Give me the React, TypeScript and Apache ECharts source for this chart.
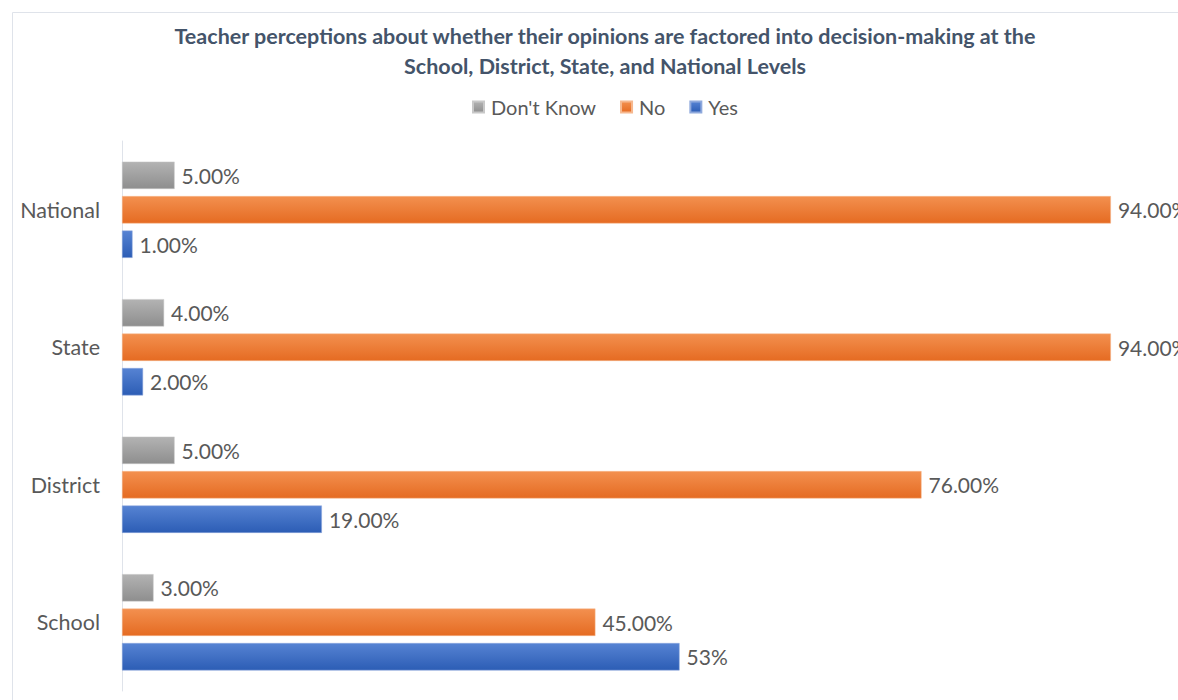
import React, { useEffect, useRef } from "react";
import * as echarts from "echarts";

const categories = ["School", "District", "State", "National"];
const dontKnow = [3, 5, 4, 5];
const no = [45, 76, 94, 94];
const yes = [53, 19, 2, 1];
const dontKnowLabels = ["3.00%", "5.00%", "4.00%", "5.00%"];
const noLabels = ["45.00%", "76.00%", "94.00%", "94.00%"];
const yesLabels = ["53%", "19.00%", "2.00%", "1.00%"];

const FONT = "Lato, 'Open Sans', sans-serif";

function grad(top: string, bottom: string) {
  return new echarts.graphic.LinearGradient(0, 0, 0, 1, [
    { offset: 0, color: top },
    { offset: 1, color: bottom },
  ]);
}

export default function App() {
  const ref = useRef<HTMLDivElement>(null);
  useEffect(() => {
    if (!ref.current) return;
    const chart = echarts.init(ref.current, null, { renderer: "svg" });
    const labelStyle = (labels: string[]) => ({
      show: true,
      position: "right",
      distance: 7,
      color: "#595959",
      fontSize: 21,
      fontFamily: FONT,
      formatter: (p: any) => labels[p.dataIndex],
    });
    chart.setOption({
      animation: false,
      backgroundColor: "#ffffff",
      title: {
        text:
          "Teacher perceptions about whether their opinions are factored into decision-making at the\nSchool, District, State, and National Levels",
        left: 600,
        textAlign: "center",
        top: 16,
        textStyle: {
          fontFamily: FONT,
          fontWeight: "bold",
          fontSize: 21.5,
          color: "#44546a",
          lineHeight: 30,
        },
      },
      legend: {
        data: ["Don't Know", "No", "Yes"],
        left: 467,
        top: 92,
        itemWidth: 11,
        itemHeight: 11,
        itemGap: 24,
        icon: "rect",
        textStyle: {
          fontFamily: FONT,
          fontSize: 20,
          color: "#595959",
          padding: [0, 0, 0, 2],
        },
      },
      grid: { left: 122, right: 4, top: 141, bottom: 9, containLabel: false },
      xAxis: {
        type: "value",
        min: 0,
        max: 100,
        show: false,
      },
      yAxis: {
        type: "category",
        data: categories,
        axisLine: { show: true, lineStyle: { color: "#dfe3ea", width: 1 } },
        axisTick: { show: false },
        axisLabel: {
          fontFamily: FONT,
          fontSize: 21.5,
          color: "#595959",
          margin: 22,
        },
        splitLine: { show: false },
      },
      graphic: [
        {
          type: "rect",
          shape: { x: 12.5, y: 12.5, width: 1300, height: 800 },
          style: { fill: "none", stroke: "#dfe3ea", lineWidth: 1 },
          silent: true,
        },
      ],
      series: [
        {
          name: "Don't Know",
          type: "bar",
          data: dontKnow,
          barGap: "26%",
          barCategoryGap: "30%",
          itemStyle: { color: grad("#b3b3b3", "#8e8e8e"), borderColor: "#c8c8c8", borderWidth: 0.5 },
          label: labelStyle(dontKnowLabels),
        },
        {
          name: "No",
          type: "bar",
          data: no,
          barGap: "26%",
          barCategoryGap: "30%",
          itemStyle: { color: grad("#f3904f", "#e56b22"), borderColor: "#f6b88f", borderWidth: 0.5 },
          label: labelStyle(noLabels),
        },
        {
          name: "Yes",
          type: "bar",
          data: yes,
          barGap: "26%",
          barCategoryGap: "30%",
          itemStyle: { color: grad("#5683d3", "#2c5db5"), borderColor: "#8fa9dc", borderWidth: 0.5 },
          label: labelStyle(yesLabels),
        },
      ],
    });
    return () => chart.dispose();
  }, []);
  return (
    <div
      ref={ref}
      style={{ position: "absolute", left: 0, top: 0, width: 1178, height: 700 }}
    />
  );
}
